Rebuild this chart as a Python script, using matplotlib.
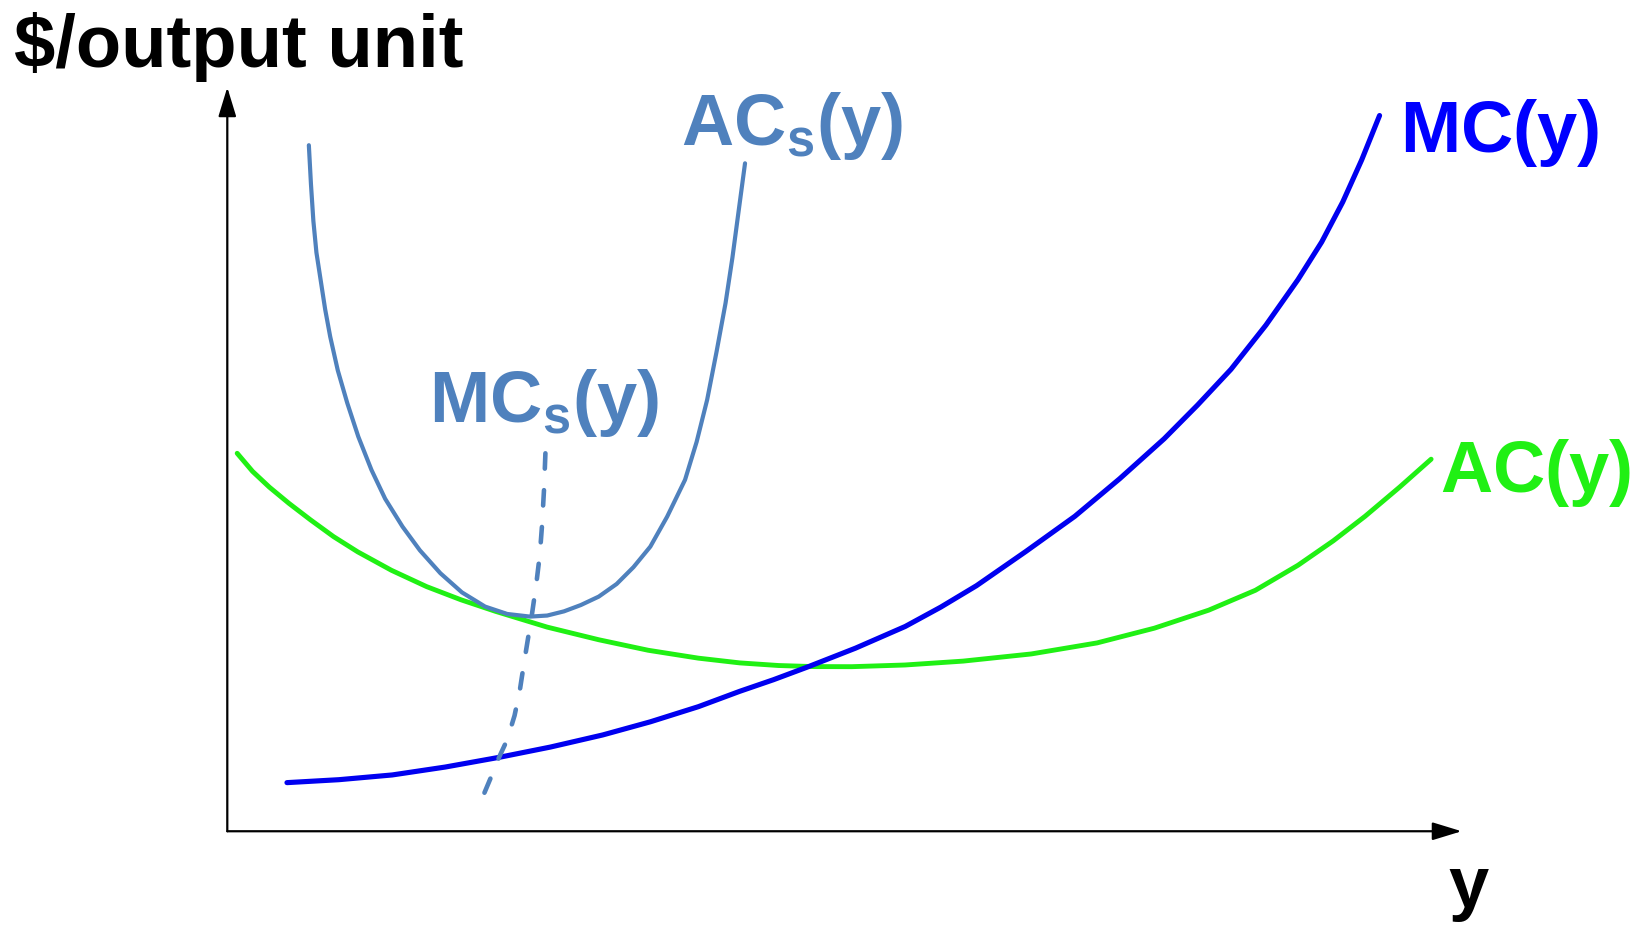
import matplotlib
matplotlib.use("Agg")
import matplotlib.pyplot as plt

plt.rcParams['font.family'] = ['Liberation Sans', 'DejaVu Sans']
plt.rcParams['font.weight'] = 'bold'
plt.rcParams['mathtext.fontset'] = 'custom'
plt.rcParams['mathtext.rm'] = 'Liberation Sans:bold'
plt.rcParams['mathtext.it'] = 'Liberation Sans:bold'
plt.rcParams['mathtext.bf'] = 'Liberation Sans:bold'
plt.rcParams['mathtext.default'] = 'bf'

# short-run average cost (U shape)
acs_x = [0.775, 0.795, 0.818, 0.847, 0.89, 0.93, 0.978, 1.05, 1.14, 1.245,
         1.37, 1.50, 1.665, 1.83, 2.025, 2.23, 2.45, 2.66, 2.877, 3.04,
         3.20, 3.36, 3.53, 3.70, 3.86, 4.02, 4.18, 4.35, 4.46, 4.56,
         4.65, 4.735, 4.80, 4.86, 4.92]
acs_y = [6.52, 6.15, 5.80, 5.50, 5.22, 4.96, 4.70, 4.38, 4.07, 3.75,
         3.434, 3.16, 2.895, 2.67, 2.452, 2.27, 2.135, 2.065, 2.04, 2.05,
         2.09, 2.15, 2.23, 2.35, 2.51, 2.705, 2.99, 3.34, 3.70, 4.10,
         4.56, 5.02, 5.45, 5.90, 6.348]

# short-run marginal cost (dashed)
mcs_x = [3.023, 3.01, 2.99, 2.97, 2.941, 2.915, 2.892, 2.858, 2.82, 2.78,
         2.73, 2.66, 2.586, 2.50, 2.422]
mcs_y = [3.592, 3.25, 2.895, 2.63, 2.388, 2.20, 2.04, 1.834, 1.60, 1.34,
         1.10, 0.87, 0.71, 0.50, 0.314]

# long-run average cost
ac_x = [0.094, 0.24, 0.40, 0.585, 0.79, 1.01, 1.24, 1.56, 1.894, 2.22,
        2.549, 3.04, 3.53, 4.00, 4.477, 4.87, 5.24, 5.568, 5.933, 6.44,
        6.993, 7.64, 8.266, 8.81, 9.326, 9.77, 10.175, 10.51, 10.812,
        11.14, 11.44]
ac_y = [3.592, 3.42, 3.27, 3.117, 2.96, 2.80, 2.655, 2.48, 2.325, 2.20,
        2.09, 1.94, 1.82, 1.72, 1.645, 1.60, 1.575, 1.565, 1.564, 1.58,
        1.617, 1.685, 1.79, 1.93, 2.101, 2.29, 2.528, 2.76, 2.993,
        3.27, 3.536]

# long-run marginal cost
mc_x = [0.567, 1.06, 1.567, 2.07, 2.586, 3.07, 3.567, 4.02, 4.477, 4.87,
        5.19, 5.509, 5.97, 6.442, 6.78, 7.12, 7.59, 8.054, 8.48, 8.903,
        9.22, 9.538, 9.87, 10.175, 10.40, 10.6, 10.78, 10.95]
mc_y = [0.462, 0.49, 0.535, 0.61, 0.703, 0.80, 0.915, 1.04, 1.184, 1.33,
        1.44, 1.559, 1.74, 1.946, 2.13, 2.334, 2.66, 2.993, 3.35, 3.73,
        4.05, 4.39, 4.81, 5.243, 5.60, 5.98, 6.38, 6.802]

C_SHORT = '#4f81bd'
C_MC = '#0000f0'
C_AC = '#20f014'

fig = plt.figure(figsize=(16.5, 9.27), dpi=100)
ax = fig.add_axes([0, 0, 1, 1])
ax.set_xlim(-2.16, 13.52)
ax.set_ylim(-0.91, 7.90)
ax.axis('off')

arrow = dict(arrowstyle='-|>,head_length=1.8,head_width=0.55', lw=1.6,
             color='black', shrinkA=0, shrinkB=0)
ax.annotate('', xy=(0, 7.07), xytext=(0, 0), arrowprops=arrow)
ax.annotate('', xy=(11.73, 0), xytext=(0, 0), arrowprops=arrow)

ax.plot(ac_x, ac_y, color=C_AC, lw=3.5, solid_capstyle='round',
        solid_joinstyle='round')
ax.plot(mc_x, mc_y, color=C_MC, lw=3.7, solid_capstyle='round',
        solid_joinstyle='round')
ax.plot(acs_x, acs_y, color=C_SHORT, lw=3.0, solid_capstyle='round',
        solid_joinstyle='round')
ax.plot(mcs_x, mcs_y, color=C_SHORT, lw=3.3, dashes=(3.35, 4.7),
        dash_capstyle='round')

fs = 52
ax.text(-2.03, 7.266, '$/output unit', fontsize=53.5, fontweight='bold',
        ha='left', va='baseline')
ax.text(11.60, -0.72, 'y', fontsize=fs, fontweight='bold',
        ha='left', va='baseline')
ax.text(4.31, 6.522, r'$AC_s(y)$', fontsize=fs, color=C_SHORT,
        ha='left', va='baseline')
ax.text(1.92, 3.89, r'$MC_s(y)$', fontsize=fs, color=C_SHORT,
        ha='left', va='baseline')
ax.text(11.14, 6.456, r'$MC(y)$', fontsize=fs, color='#0000ff',
        ha='left', va='baseline')
ax.text(11.52, 3.225, r'$AC(y)$', fontsize=fs, color=C_AC,
        ha='left', va='baseline')

fig.savefig('out.png', dpi=100)
